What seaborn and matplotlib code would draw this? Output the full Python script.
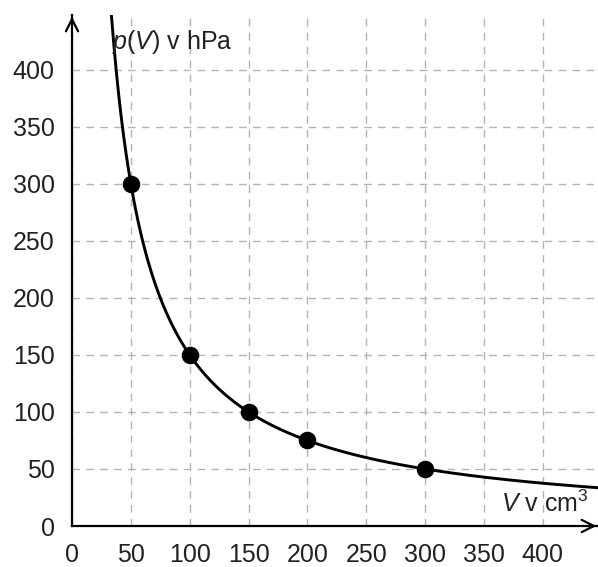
import numpy as np
import pandas as pd
import matplotlib
matplotlib.use('Agg')
import matplotlib.pyplot as plt
import seaborn as sns

volume = [50, 100, 150, 200, 300]
pressure = [300, 150, 100, 75, 50]
k_const = 15000  # p * V is constant (Boyle)

x_ticks = [0, 50, 100, 150, 200, 250, 300, 350, 400]
y_ticks = [0, 50, 100, 150, 200, 250, 300, 350, 400]

x_max = 447
y_max = 448

sns.set_style('white')
plt.rcParams['font.family'] = ['Liberation Sans', 'DejaVu Sans']
plt.rcParams['mathtext.fontset'] = 'custom'
plt.rcParams['mathtext.it'] = 'Liberation Sans:italic'
plt.rcParams['mathtext.rm'] = 'Liberation Sans'

fig = plt.figure(figsize=(5.98, 5.67), dpi=100)
ax = fig.add_axes([72 / 598, 41 / 567, 1 - 72 / 598, 511 / 567])

# curve p(V) = k / V
v_curve = np.linspace(k_const / y_max, x_max, 400)
df_curve = pd.DataFrame({'V': v_curve, 'p': k_const / v_curve})
df_pts = pd.DataFrame({'V': volume, 'p': pressure})

sns.lineplot(data=df_curve, x='V', y='p', ax=ax, color='black', linewidth=2.1, zorder=3)
sns.scatterplot(data=df_pts, x='V', y='p', ax=ax, color='black', s=160, zorder=4,
                edgecolor='black', linewidth=0)

ax.set_xlim(0, x_max)
ax.set_ylim(0, y_max)

ax.set_xticks(x_ticks)
ax.set_yticks(y_ticks)
ax.grid(True, linestyle=(0, (5.5, 4.5)), color='#b3b3b3', linewidth=1.0)
ax.set_axisbelow(True)

ax.tick_params(direction='out', length=7.5, width=1.5, color='black',
               labelsize=18, labelcolor='#222222', pad=5)

for s in ['top', 'right']:
    ax.spines[s].set_visible(False)
for s in ['left', 'bottom']:
    ax.spines[s].set_linewidth(1.6)
    ax.spines[s].set_color('black')
    ax.spines[s].set_zorder(5)

ax.set_xlabel('')
ax.set_ylabel('')

# arrow heads
ax.annotate('', xy=(x_max + 1, 0), xytext=(x_max - 10, 0),
            arrowprops=dict(arrowstyle='->', color='black', lw=1.6, mutation_scale=22),
            annotation_clip=False)
ax.annotate('', xy=(0, y_max + 1), xytext=(0, y_max - 10),
            arrowprops=dict(arrowstyle='->', color='black', lw=1.6, mutation_scale=22),
            annotation_clip=False)

ax.text(34, 437, r'$p$($V$) v hPa', fontsize=18, color='#222222', va='top', ha='left')
ax.text(439, 8, r'$V$ v cm$^3$', fontsize=18, color='#222222', va='bottom', ha='right')

fig.savefig('out.png', dpi=100)
